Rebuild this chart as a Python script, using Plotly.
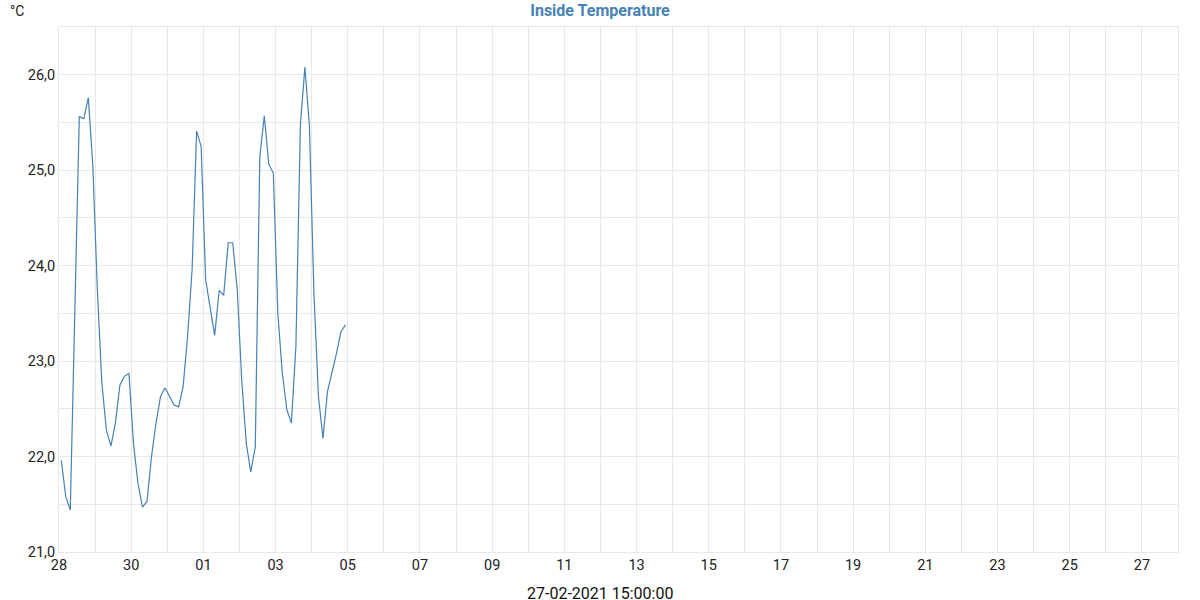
import plotly.graph_objects as go
import pandas as pd

# readings every 3 hours, starting 28 Jan 2021 01:30
start = "2021-01-28 01:30"
step_hours = 3
temperature = [
    21.96, 21.58, 21.44, 23.6, 25.56, 25.54, 25.76, 25.04,
    23.75, 22.77, 22.28, 22.11, 22.35, 22.75, 22.84, 22.87,
    22.14, 21.72, 21.47, 21.53, 22.0, 22.35, 22.63, 22.72,
    22.63, 22.54, 22.52, 22.73, 23.26, 23.96, 25.41, 25.25,
    23.85, 23.57, 23.27, 23.74, 23.69, 24.24, 24.24, 23.75,
    22.80, 22.14, 21.84, 22.10, 25.14, 25.57, 25.06, 24.97,
    23.50, 22.87, 22.49, 22.35, 23.15, 25.48, 26.08, 25.46,
    23.71, 22.63, 22.19, 22.68, 22.87, 23.08, 23.31, 23.38,
]
times = pd.date_range(start, periods=len(temperature), freq=f"{step_hours}h")

x_range = ["2021-01-28", "2021-02-28"]
y_range = [21, 26.5]
title_text = "Inside Temperature"
unit_text = "°C"
time_label = "27-02-2021 15:00:00"

blue = "rgb(70,130,180)"
grid = "#e8e8e8"
font = "Roboto, sans-serif"

fig = go.Figure()
fig.add_trace(go.Scatter(
    x=times, y=temperature,
    mode="lines",
    line=dict(color=blue, width=1.2),
    showlegend=False,
))

fig.update_layout(
    width=1200, height=600,
    margin=dict(l=59, r=22, t=27, b=48),
    paper_bgcolor="white",
    plot_bgcolor="white",
    separators=",.",
    font=dict(family=font, size=14, color="#222"),
    title=dict(
        text=f"<b>{title_text}</b>",
        x=0.5, xanchor="center",
        y=0.992, yanchor="top",
        font=dict(size=16, color=blue, family=font),
    ),
    xaxis=dict(
        range=x_range,
        dtick=2 * 86400000,
        tick0="2021-01-28",
        tickformat="%d",
        showgrid=True, gridcolor=grid, gridwidth=1,
        minor=dict(dtick=86400000, showgrid=True, gridcolor=grid, gridwidth=1),
        showline=True, linecolor=grid, mirror=True,
        ticks="", zeroline=False,
        tickfont=dict(size=14.5, color="#222"),
    ),
    yaxis=dict(
        range=y_range,
        dtick=1, tick0=21,
        tickformat=".1f",
        showgrid=True, gridcolor=grid, gridwidth=1,
        minor=dict(dtick=0.5, showgrid=True, gridcolor=grid, gridwidth=1),
        showline=True, linecolor=grid, mirror=True,
        ticks="", zeroline=False,
        tickfont=dict(size=14.5, color="#222"),
    ),
    annotations=[
        dict(
            text=unit_text, xref="paper", yref="paper",
            x=(8 - 59) / 1119, y=1 + 26 / 525,
            xanchor="left", yanchor="top", showarrow=False,
            font=dict(size=14, color="#222"),
        ),
        dict(
            text=time_label, xref="paper", yref="paper",
            x=(600 - 59) / 1119, y=-30 / 525,
            xanchor="center", yanchor="top", showarrow=False,
            font=dict(size=16, color="#111"),
        ),
    ],
)

# drop the default page margin so the figure sits at the window corner
fig.write_html(
    "out.html",
    config={"displayModeBar": False},
    post_script="document.body.style.margin='0';",
)
